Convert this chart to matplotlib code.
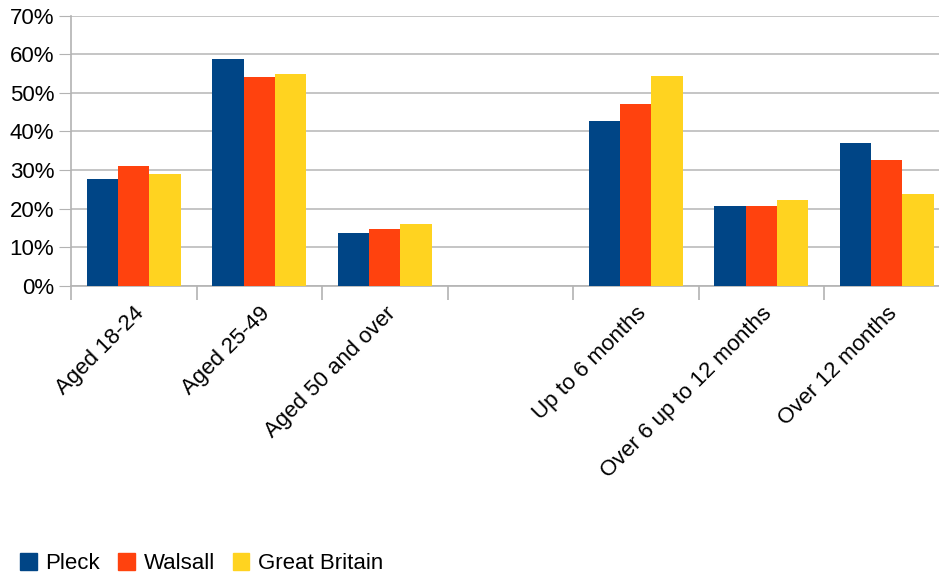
import matplotlib.pyplot as plt
import numpy as np
from matplotlib.patches import Patch

plt.rcParams['font.family'] = ['Liberation Sans', 'DejaVu Sans']

# data (percent)
categories = ['Aged 18-24', 'Aged 25-49', 'Aged 50 and over', '',
              'Up to 6 months', 'Over 6 up to 12 months', 'Over 12 months']
series_names = ['Pleck', 'Walsall', 'Great Britain']
pleck = [27.8, 58.8, 13.7, np.nan, 42.7, 20.7, 37.0]
walsall = [31.0, 54.1, 14.7, np.nan, 47.1, 20.7, 32.6]
great_britain = [29.0, 54.9, 16.0, np.nan, 54.4, 22.2, 23.8]
colors = ['#004586', '#ff420e', '#ffd320']

fig = plt.figure(figsize=(9.39, 5.77), dpi=100)
# axes runs past the right edge of the figure like in the original
ax = fig.add_axes([71 / 939, 1 - 286 / 577, 878.5 / 939, 270.5 / 577])

x = np.arange(len(categories))
bar_w = 0.25
for i, (vals, c) in enumerate(zip([pleck, walsall, great_britain], colors)):
    ax.bar(x + (i - 1) * bar_w, vals, bar_w, color=c, zorder=3)

ax.set_xlim(-0.5, len(categories) - 0.5)
ax.set_ylim(0, 70)

# y axis
ax.set_yticks(np.arange(0, 71, 10))
ax.set_yticklabels([f'{v}%' for v in range(0, 71, 10)])
ax.tick_params(axis='y', length=9, color='#b3b3b3', labelsize=16, pad=3)
ax.grid(axis='y', color='#c0c0c0', linewidth=1.3, zorder=0)

# x axis: labels at centres, ticks on category boundaries
ax.set_xticks(x)
ax.set_xticklabels(categories, rotation=45, ha='right', rotation_mode='anchor')
ax.tick_params(axis='x', length=0, labelsize=16, pad=12)
ax.set_xticks(np.arange(-0.5, len(categories)), minor=True)
ax.tick_params(axis='x', which='minor', length=10, color='#b3b3b3', width=1.2)

for s in ['top', 'right']:
    ax.spines[s].set_visible(False)
ax.spines['left'].set_color('#b3b3b3')
ax.spines['bottom'].set_color('#b3b3b3')
ax.spines['left'].set_linewidth(1.2)
ax.spines['bottom'].set_linewidth(1.2)

handles = [Patch(color=c) for c in colors]
fig.legend(handles, series_names, loc='lower left', bbox_to_anchor=(0.0, -0.03),
           ncol=3, frameon=False, fontsize=16, handlelength=0.75, handleheight=0.75,
           handletextpad=0.4, columnspacing=0.8)

fig.savefig('out.png', dpi=100)
